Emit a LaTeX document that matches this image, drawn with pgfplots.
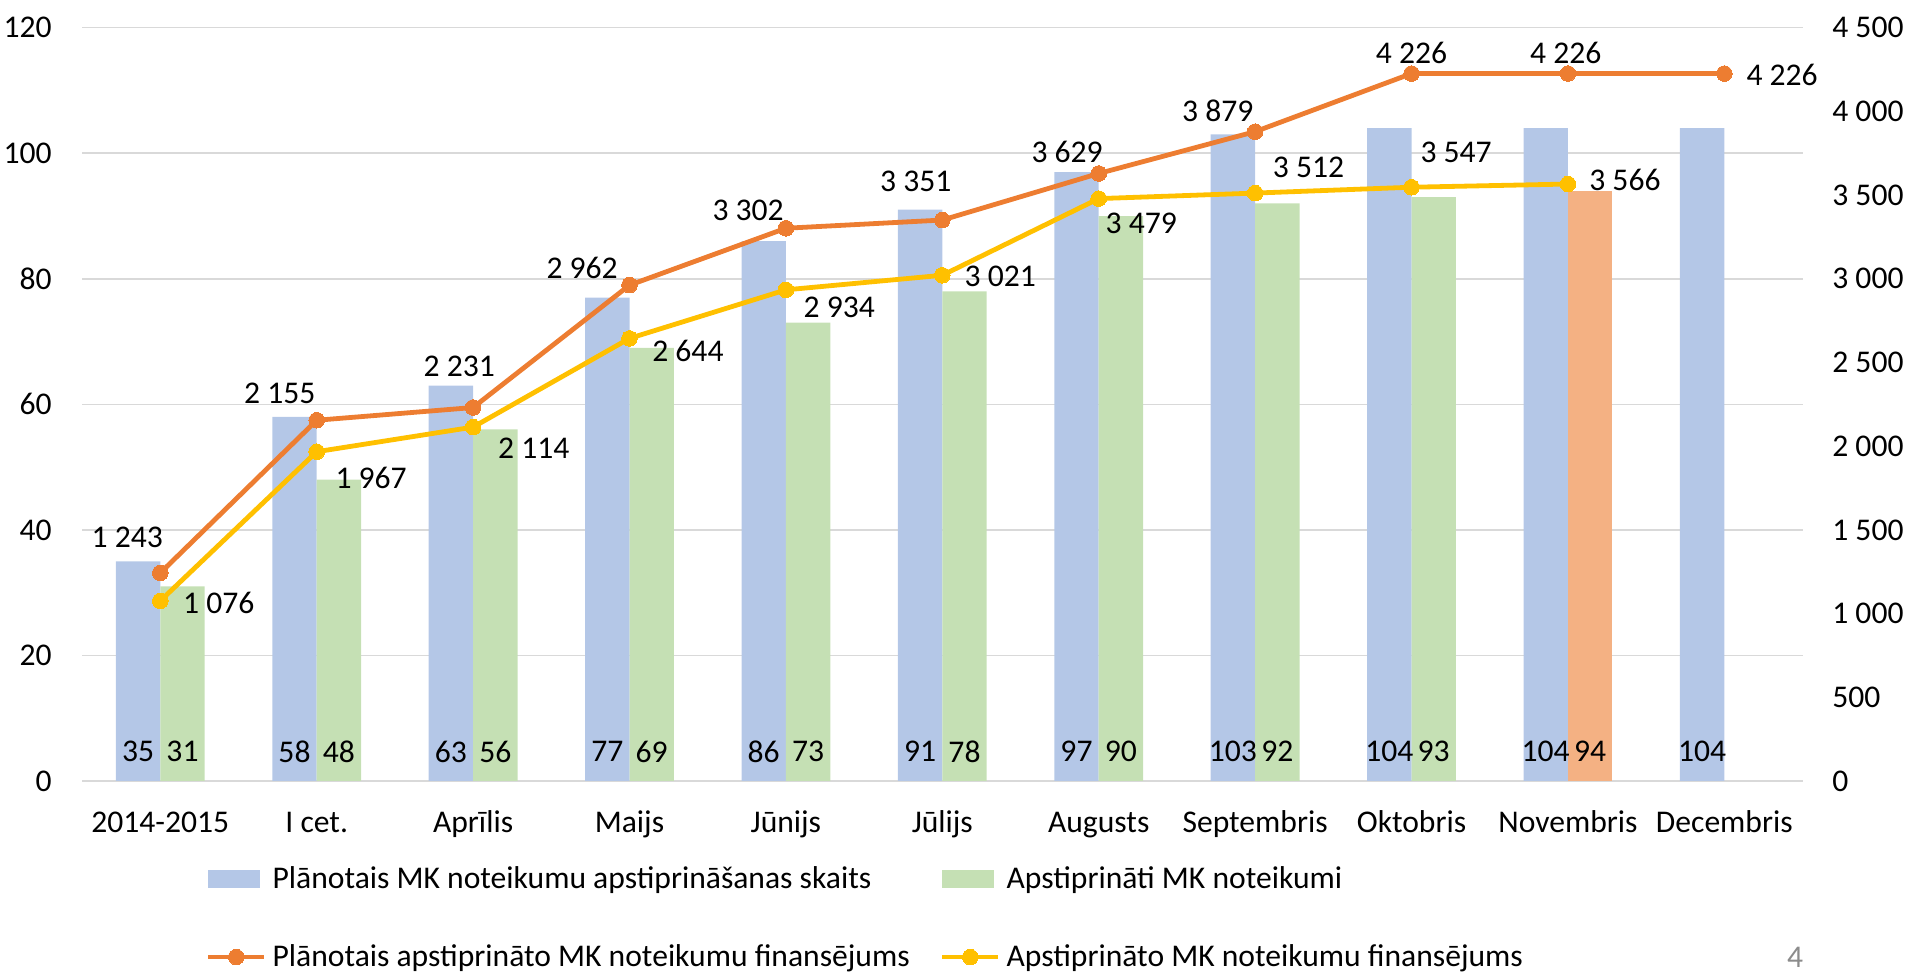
\documentclass[border=0pt]{standalone}
\usepackage{fontspec}
\setmainfont{Carlito}
\usepackage{pgfplots}
\usepackage{pgfplotstable}
\pgfplotsset{compat=1.18}
\definecolor{barblue}{HTML}{B4C7E7}
\definecolor{bargreen}{HTML}{C5E0B4}
\definecolor{barorange}{HTML}{F4B183}
\definecolor{lineorange}{HTML}{ED7D31}
\definecolor{lineyellow}{HTML}{FFC000}
\definecolor{gridgray}{HTML}{D9D9D9}
\definecolor{pagegray}{HTML}{8C8C8C}

\pgfplotsset{
  barleg/.style={legend image code/.code={\fill[##1] (0pt,-4.4pt) rectangle (26pt,4.4pt);}},
  lineleg/.style={legend image code/.code={\draw[##1, mark repeat=2, mark phase=2] plot coordinates {(0pt,0pt) (14pt,0pt) (28pt,0pt)};}},
}

\pgfplotstableread{
x y
0 35
1 58
2 63
3 77
4 86
5 91
6 97
7 103
8 104
9 104
10 104
}\planned
\pgfplotstableread{
x y
0 31
1 48
2 56
3 69
4 73
5 78
6 90
7 92
8 93
}\approved
\pgfplotstableread{
x y
9 94
}\approvednov
\pgfplotstableread{
x y dx dy
0 1243 -16.5 18
1 2155 -18.5 13.2
2 2231 -6.9 20.6
3 2962 -23.7 8.8
4 3302 -18.9 8.8
5 3351 -13.3 19.2
6 3629 -15.8 10.7
7 3879 -18.7 10.5
8 4226 0 10.5
9 4226 -1.1 10.5
10 4226 28.9 -0.8
}\finplanned
\pgfplotstableread{
x y dx dy
0 1076 29.2 -0.8
1 1967 27.2 -13
2 2114 30.3 -10.8
3 2644 29.2 -6.2
4 2934 26.7 -8.7
5 3021 29 -0.3
6 3479 21.3 -12.2
7 3512 26.7 13
8 3547 22.3 17.2
9 3566 28.5 2.2
}\finapproved

\begin{document}
\fontsize{15.8}{19}\selectfont
\begin{tikzpicture}[font=\fontsize{15.8}{19}\selectfont]
\begin{axis}[
  name=main,
  scale only axis, width=860.2pt, height=376.65pt,
  xmin=-0.5, xmax=10.5, ymin=0, ymax=120,
  ybar, bar width=22.2pt,
  xtick={0,...,10},
  xticklabels={2014-2015, I cet., Aprīlis, Maijs, Jūnijs, Jūlijs, Augusts, Septembris, Oktobris, Novembris, Decembris},
  ytick={0,20,...,120},
  axis line style={draw=none},
  major tick length=0pt,
  ymajorgrids, grid style={gridgray, line width=0.75pt},
  xticklabel style={anchor=base, yshift=-25.85pt, inner sep=0pt},
  yticklabel style={anchor=east, xshift=-15pt, inner sep=0pt},
  /pgf/number format/assume math mode=true,
  clip=false,
]
\addplot[fill=barblue, draw=none, bar shift=-11.1pt] table[x=x,y=y]{\planned};
\addplot[fill=bargreen, draw=none, bar shift=11.1pt] table[x=x,y=y]{\approved};
\addplot[fill=barorange, draw=none, bar shift=11.1pt] table[x=x,y=y]{\approvednov};
\addplot[draw=none, fill=none, bar shift=-11.1pt, nodes near coords, point meta=explicit,
  every node near coord/.append style={anchor=center, inner sep=0pt, text=black}]
  table[x=x, y expr=4.68, meta=y]{\planned};
\addplot[draw=none, fill=none, bar shift=11.1pt, nodes near coords, point meta=explicit,
  every node near coord/.append style={anchor=center, inner sep=0pt, text=black}]
  table[x=x, y expr=4.68, meta=y]{\approved};
\addplot[draw=none, fill=none, bar shift=11.1pt, nodes near coords, point meta=explicit,
  every node near coord/.append style={anchor=center, inner sep=0pt, text=black}]
  table[x=x, y expr=4.68, meta=y]{\approvednov};
\end{axis}

\begin{axis}[
  scale only axis, width=860.2pt, height=376.65pt,
  xmin=-0.5, xmax=10.5, ymin=0, ymax=4500,
  axis y line*=right, axis x line=none,
  axis line style={draw=none},
  major tick length=0pt,
  ytick={0,500,...,4500},
  yticklabel style={anchor=west, xshift=14.7pt, inner sep=0pt},
  /pgf/number format/1000 sep={\ },
  /pgf/number format/assume math mode=true,
  clip=false,
  legend columns=2,
  legend cell align=left,
  legend style={
    draw=none, fill=none, inner sep=0pt, outer sep=0pt,
    at={(axis description cs:0.0719,-0.11284)}, anchor=north west,
    nodes={inner sep=0pt, text height=11pt, text depth=2pt},
    /tikz/every odd column/.append style={column sep=3pt},
    /tikz/every even column/.append style={column sep=15pt},
    row sep=26pt,
  },
]
\addlegendimage{barleg, fill=barblue, draw=none}
\addlegendentry{Plānotais MK noteikumu apstiprināšanas skaits}
\addlegendimage{barleg, fill=bargreen, draw=none}
\addlegendentry{Apstiprināti MK noteikumi}
\addplot[lineorange, line width=2.4pt, mark=*, mark size=3.9pt, mark options={solid, fill=lineorange, draw=lineorange, line width=0pt}, lineleg,
  nodes near coords, point meta=y,
  visualization depends on={\thisrow{dx}\as\dx},
  visualization depends on={\thisrow{dy}\as\dy},
  every node near coord/.append style={anchor=center, inner sep=0pt, text=black, xshift=\dx, yshift=\dy}]
  table[x=x,y=y]{\finplanned};
\addlegendentry{Plānotais apstiprināto MK noteikumu finansējums}
\addplot[lineyellow, line width=2.4pt, mark=*, mark size=3.9pt, mark options={solid, fill=lineyellow, draw=lineyellow, line width=0pt}, lineleg,
  nodes near coords, point meta=y,
  visualization depends on={\thisrow{dx}\as\dx},
  visualization depends on={\thisrow{dy}\as\dy},
  every node near coord/.append style={anchor=center, inner sep=0pt, text=black, xshift=\dx, yshift=\dy}]
  table[x=x,y=y]{\finapproved};
\addlegendentry{Apstiprināto MK noteikumu finansējums}
\end{axis}

\node[text=pagegray, anchor=center, inner sep=0pt] at ([shift={(856.45pt,-88.3pt)}]main.south west) {4};

\pgfresetboundingbox
\path[use as bounding box] ([shift={(-41.05pt,-95.5pt)}]main.south west) rectangle ([shift={(913.45pt,390.5pt)}]main.south west);
\end{tikzpicture}
\end{document}
